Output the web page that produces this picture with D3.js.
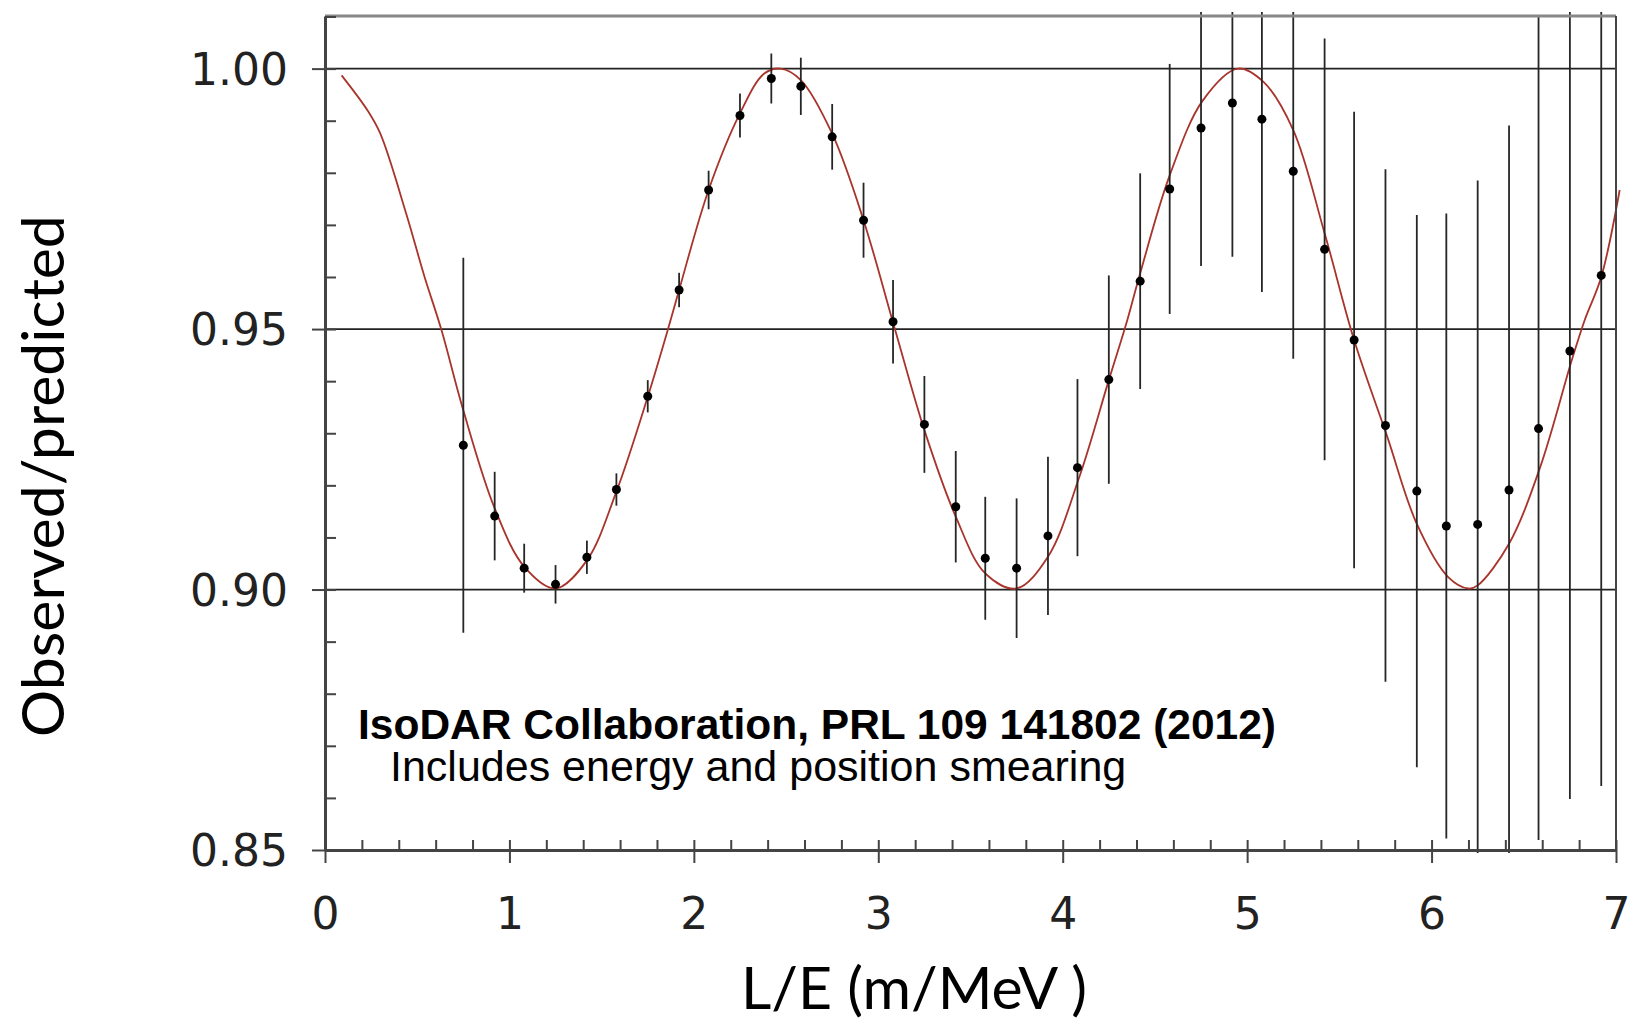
<!DOCTYPE html>
<meta charset="utf-8">

<!-- Load d3.js -->
<script src="https://cdn.jsdelivr.net/npm/d3@7"></script>

<div id="my_dataviz"></div>
<style>
    body {
        margin: 0;
        background-color: #ffffff;
    }
</style>
<script>

    // measured points (L/E in m/MeV, observed/predicted, error)
    var leX = [0.75, 0.92, 1.08, 1.25, 1.42, 1.58, 1.75, 1.92, 2.08, 2.25, 2.42, 2.58, 2.75,
        2.92, 3.08, 3.25, 3.42, 3.58, 3.75, 3.92, 4.08, 4.25, 4.42, 4.58, 4.75, 4.92,
        5.08, 5.25, 5.42, 5.58, 5.75, 5.92, 6.08, 6.25, 6.42, 6.58, 6.75, 6.92];
    var ratio = [0.9277, 0.9141, 0.9041, 0.9010, 0.9062, 0.9192, 0.9371, 0.9575, 0.9767, 0.9910,
        0.9981, 0.9966, 0.9869, 0.9709, 0.9514, 0.9317, 0.9159, 0.9060, 0.9041, 0.9103,
        0.9234, 0.9403, 0.9592, 0.9769, 0.9886, 0.9934, 0.9903, 0.9803, 0.9653, 0.9479,
        0.9315, 0.9189, 0.9122, 0.9125, 0.9191, 0.9309, 0.9458, 0.9603];
    var err = [0.0360, 0.0085, 0.0047, 0.0037, 0.0032, 0.0031, 0.0031, 0.0033, 0.0037, 0.0042,
        0.0048, 0.0055, 0.0063, 0.0072, 0.0080, 0.0093, 0.0107, 0.0118, 0.0134, 0.0152,
        0.0170, 0.0200, 0.0207, 0.0240, 0.0265, 0.0295, 0.0332, 0.0360, 0.0405, 0.0438,
        0.0492, 0.0530, 0.0600, 0.0660, 0.0700, 0.0790, 0.0860, 0.0980];

    // oscillation curve
    var curveX = [0.09, 0.23, 0.30, 0.44, 0.54, 0.63, 0.75, 0.92, 1.08, 1.25, 1.42, 1.58, 1.75,
        1.86, 1.92, 2.08, 2.25, 2.38, 2.47, 2.58, 2.75, 2.92, 3.09, 3.25, 3.42, 3.58, 3.75,
        3.92, 4.09, 4.25, 4.35, 4.42, 4.58, 4.76, 4.95, 5.09, 5.25, 5.42, 5.58, 5.76, 5.92,
        6.09, 6.20, 6.25, 6.42, 6.59, 6.76, 6.83, 6.92, 7.02];
    var curveY = [0.9987, 0.9920, 0.9875, 0.9722, 0.9600, 0.9500, 0.9344, 0.9156, 0.9044, 0.9002,
        0.9056, 0.9188, 0.9370, 0.9500, 0.9575, 0.9767, 0.9914, 0.9990, 1.0000, 0.9978,
        0.9875, 0.9709, 0.9500, 0.9306, 0.9140, 0.9031, 0.9002, 0.9063, 0.9216, 0.9402,
        0.9517, 0.9607, 0.9795, 0.9939, 1.0000, 0.9974, 0.9882, 0.9684, 0.9479, 0.9293,
        0.9126, 0.9024, 0.9002, 0.9008, 0.9088, 0.9236, 0.9440, 0.9517, 0.9600, 0.9767];

    var xTicks = [0, 1, 2, 3, 4, 5, 6, 7];
    var yTicks = [0.85, 0.90, 0.95, 1.00];
    var gridTicks = [0.90, 0.95, 1.00];

    // set the dimensions and margins of the graph
    var margin = { top: 16, right: 35, bottom: 169, left: 325 },
        width = 1651 - margin.left - margin.right,
        height = 1019 - margin.top - margin.bottom;

    var root = d3.select("#my_dataviz")
        .append("svg")
        .attr("width", width + margin.left + margin.right)
        .attr("height", height + margin.top + margin.bottom);

    var svg = root.append("g")
        .attr("transform", "translate(" + margin.left + "," + margin.top + ")");

    var x = d3.scaleLinear().domain([0, 7]).range([0, width]);
    var y = d3.scaleLinear().domain([0.85, 1.0101]).range([height, 0]);

    // clip for error bars that run off the frame
    svg.append("clipPath").attr("id", "clip")
        .append("rect")
        .attr("x", -5).attr("y", -4)
        .attr("width", width + 10).attr("height", height + 7);

    // horizontal grid lines
    svg.selectAll("grid")
        .data(gridTicks)
        .enter()
        .append("line")
        .attr("x1", 0)
        .attr("x2", width)
        .attr("y1", function (d) { return y(d); })
        .attr("y2", function (d) { return y(d); })
        .attr("stroke", "#222")
        .attr("stroke-width", 1.8);

    // model curve
    var line = d3.line()
        .x(function (d, i) { return x(curveX[i]); })
        .y(function (d) { return y(d); })
        .curve(d3.curveCatmullRom.alpha(0.5));

    svg.append("path")
        .datum(curveY)
        .attr("d", line)
        .attr("fill", "none")
        .attr("stroke", "#a8342c")
        .attr("stroke-width", 1.8);

    // error bars
    svg.append("g")
        .attr("clip-path", "url(#clip)")
        .selectAll("line")
        .data(ratio)
        .enter()
        .append("line")
        .attr("x1", function (d, i) { return x(leX[i]); })
        .attr("x2", function (d, i) { return x(leX[i]); })
        .attr("y1", function (d, i) { return y(d + err[i]); })
        .attr("y2", function (d, i) { return y(d - err[i]); })
        .attr("stroke", "#262626")
        .attr("stroke-width", 1.8);

    // points
    svg.selectAll("mycircle")
        .data(ratio)
        .enter()
        .append("circle")
        .attr("cx", function (d, i) { return x(leX[i]); })
        .attr("cy", function (d) { return y(d); })
        .attr("r", 4.5)
        .style("fill", "#000");

    // frame: top and right
    svg.append("line")
        .attr("x1", 0).attr("x2", width)
        .attr("y1", 0).attr("y2", 0)
        .attr("stroke", "#888").attr("stroke-width", 3);
    svg.append("line")
        .attr("x1", width).attr("x2", width)
        .attr("y1", 0).attr("y2", height)
        .attr("stroke", "#444").attr("stroke-width", 2);

    // minor ticks pointing inward
    svg.append("g")
        .attr("class", "minor")
        .call(d3.axisRight(y).ticks(16).tickSize(11).tickFormat(""));
    svg.append("g")
        .attr("class", "minor")
        .attr("transform", "translate(0," + height + ")")
        .call(d3.axisTop(x).ticks(35).tickSize(10).tickFormat(""));

    // major axes
    var yAxis = svg.append("g")
        .attr("class", "major")
        .call(d3.axisLeft(y).tickValues(yTicks).tickSize(13).tickSizeOuter(0)
            .tickPadding(24).tickFormat(d3.format(".2f")));
    yAxis.selectAll("text").attr("dy", "0.36em");

    var xAxis = svg.append("g")
        .attr("class", "major")
        .attr("transform", "translate(0," + height + ")")
        .call(d3.axisBottom(x).tickValues(xTicks).tickSize(13).tickSizeOuter(0)
            .tickPadding(35).tickFormat(d3.format("d")));

    svg.selectAll(".minor path").remove();
    svg.selectAll(".minor line").attr("stroke", "#444").attr("stroke-width", 2);
    svg.selectAll(".major path").attr("stroke", "#444").attr("stroke-width", 3);
    svg.selectAll(".major line").attr("stroke", "#444").attr("stroke-width", 2);
    svg.selectAll(".major text")
        .style("font-family", "'DejaVu Sans', Verdana, sans-serif")
        .style("font-size", "44px")
        .style("fill", "#222");

    // axis titles
    root.append("text")
        .attr("transform", "translate(64,476) rotate(-90)")
        .style("text-anchor", "middle")
        .style("font-family", "Lato, sans-serif")
        .style("font-size", "59px")
        .style("fill", "#000")
        .text("Observed/predicted");

    root.append("text")
        .attr("x", 914)
        .attr("y", 1009)
        .style("text-anchor", "middle")
        .style("font-family", "Lato, sans-serif")
        .style("font-size", "59px")
        .style("fill", "#000")
        .text("L/E (m/MeV )");

    // annotation
    root.append("text")
        .attr("x", 358)
        .attr("y", 739)
        .style("font-family", "'Liberation Sans', Arial, sans-serif")
        .style("font-weight", "bold")
        .style("font-size", "42.5px")
        .style("fill", "#000")
        .text("IsoDAR Collaboration, PRL 109 141802 (2012)");

    root.append("text")
        .attr("x", 390)
        .attr("y", 781)
        .style("font-family", "'Liberation Sans', Arial, sans-serif")
        .style("font-size", "43px")
        .style("fill", "#000")
        .text("Includes energy and position smearing");

</script>
